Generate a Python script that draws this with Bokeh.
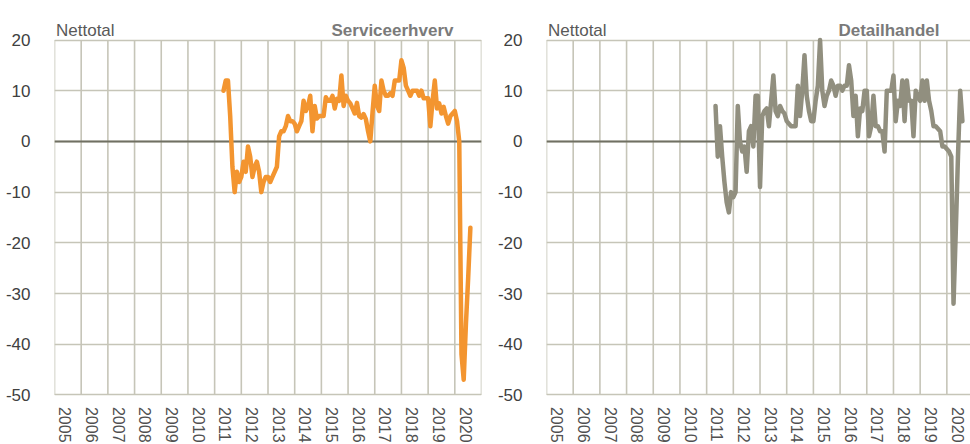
import numpy as np
import pandas as pd
from bokeh.plotting import figure
from bokeh.layouts import row
from bokeh.models import Range1d, FixedTicker, ColumnDataSource
from bokeh.core.properties import value
from bokeh.embed import file_html
from bokeh.resources import INLINE

# ---------------- data ----------------
start_month = "2011-05-01"
n_months = 112  # May 2011 .. Aug 2020

service = [
    # 2011 May-Dec
    10, 12, 12, 5, -5, -10, -6, -8,
    # 2012
    -7, -4, -6, -1, -3, -7, -5, -4, -6, -10, -8, -7,
    # 2013
    -7, -8, -7, -6, -5, 1, 2, 2, 3, 5, 4, 4,
    # 2014
    3.5, 2, 3, 4, 8, 6, 7, 9, 2, 7, 4.5, 5,
    # 2015
    5, 5, 8.7, 8, 8, 9, 6.5, 8.4, 8, 13, 7, 9,
    # 2016
    8, 7.5, 6.5, 5.5, 7.6, 5, 4.7, 5.4, 4.4, 2, 0, 5.7,
    # 2017
    11, 7, 6, 12, 10, 9, 9, 9.5, 9, 12, 12, 12,
    # 2018
    16, 14.5, 11, 10, 9, 10, 10, 10, 9, 10, 8.5, 8.5,
    # 2019
    8.5, 3, 8, 12, 6.5, 7.5, 5.5, 6.8, 5, 3.5, 5, 5.5,
    # 2020 Jan-Aug
    6, 4, 0, -42, -47, -36, -27, -17,
]

retail = [
    # 2011 May-Dec
    7, -3, 3, -3, -8, -12, -14, -10,
    # 2012
    -11, -10, 7, 0, -2, -1, -6, 2, 3, -1, 9, 9,
    # 2013
    -9, 5, 6, 6.5, 3, 8, 13, 6, 5, 7, 6, 5.5,
    # 2014
    4, 3.5, 3, 3, 3, 11, 5, 10, 17, 9, 6, 4,
    # 2015
    4, 8, 11, 20, 10, 7, 9, 10, 12, 11, 9, 11,
    # 2016
    11, 10, 11, 11, 15, 12, 5, 9, 1, 6.5, 6, 10,
    # 2017
    10, 1, 3, 9, 3, 3, 2, 2, -2, 10, 10, 10,
    # 2018
    13, 4, 8, 7, 12, 4, 12, 8, 8, 1, 10, 9,
    # 2019
    8, 12, 8, 12, 8, 6, 3, 3, 2.5, 2, -1, -1,
    # 2020 Jan-Aug
    -1.5, -2, -3, -32, -18, -3, 10, 4,
]

year_ticks = list(range(2005, 2021))
year_labels = [str(y) for y in year_ticks]
y_ticks = [-50, -40, -30, -20, -10, 0, 10, 20]
y_labels = ["-50", "-40", "-30", "-20", "-10", "0", "10", "20"]

unit_label = "Nettotal"
titles = ["Serviceerhverv", "Detailhandel"]

dates = pd.date_range(start_month, periods=n_months, freq="MS")
xs = (dates.year + (dates.month - 1) / 12.0).to_numpy()

# ---------------- styling ----------------
FONT = "Liberation Sans"
GRID = "#c6c5b8"
ZERO = "#707063"
PX_Y = 5.071          # pixels per y unit
PX_X = 26.69          # pixels per year
FIG_H = 444
TOP_PAD_PX = 39.5     # frame top -> 20 gridline
Y_TOP = 20 + TOP_PAD_PX / PX_Y
Y_BOT = Y_TOP - FIG_H / PX_Y


def make_panel(values, color, title, width, border_left, border_right,
               title_right_px, x_end=None):
    frame_w = width - border_left - border_right
    x0 = year_ticks[0]
    x1 = x0 + frame_w / PX_X if x_end is None else x_end
    p = figure(width=width, height=FIG_H, output_backend="svg",
               toolbar_location=None, x_axis_location=None,
               x_range=Range1d(x0, x1), y_range=Range1d(Y_BOT, Y_TOP),
               min_border_left=border_left, min_border_right=border_right,
               min_border_top=0, min_border_bottom=0)
    p.outline_line_color = None
    p.background_fill_color = "white"
    p.border_fill_color = "white"
    p.xgrid.grid_line_color = None

    ax = p.yaxis[0]
    ax.ticker = FixedTicker(ticks=y_ticks)
    ax.major_label_overrides = {t: l for t, l in zip(y_ticks, y_labels)}
    ax.axis_line_color = None
    ax.major_tick_line_color = None
    ax.minor_tick_line_color = None
    ax.major_label_standoff = 18
    ax.major_label_text_font = FONT
    ax.major_label_text_font_size = "17px"
    ax.major_label_text_color = "#404040"

    p.ygrid.grid_line_color = GRID
    p.ygrid.grid_line_width = 1.6

    # vertical year gridlines (bounded to -50..20)
    vx = [y for y in year_ticks + [year_ticks[-1] + 1] if y <= x1]
    p.segment(x0=vx, x1=vx, y0=[y_ticks[0]] * len(vx), y1=[y_ticks[-1]] * len(vx),
              line_color=GRID, line_width=1.6)
    # zero line
    p.segment(x0=[x0], x1=[x1], y0=[0], y1=[0], line_color=ZERO, line_width=2)

    # data line
    src = ColumnDataSource(dict(x=xs, y=values))
    p.line("x", "y", source=src, line_color=color, line_width=4.5,
           line_join="round", line_cap="round")

    # year labels (rotated)
    p.text(x=[y + 10.7 / PX_X for y in year_ticks],
           y=[y_ticks[0] - 12 / PX_Y] * len(year_ticks),
           text=year_labels, angle=-np.pi / 2,
           text_align="left", text_baseline="middle",
           text_font=value(FONT), text_font_size="16px", text_color="#505050")

    base_y = y_ticks[-1] + 9.5 / PX_Y
    p.text(x=[x0 + 1.5 / PX_X], y=[base_y], text=[unit_label],
           text_align="left", text_baseline="alphabetic",
           text_font=value(FONT), text_font_size="17px", text_color="#595959")
    p.text(x=[x0 + title_right_px / PX_X], y=[base_y], text=[title],
           text_align="right", text_baseline="alphabetic",
           text_font=value(FONT), text_font_size="17px", text_font_style="bold",
           text_color="#7a7a7a")
    return p


p1 = make_panel(service, "#f39530", titles[0], 485, 54, 4, 399.0, x_end=2021)
p2 = make_panel(retail, "#918f7f", titles[1], 485, 61, 0, 393.0)

layout = row(p1, p2)
open("out.html", "w").write(file_html(layout, INLINE))
